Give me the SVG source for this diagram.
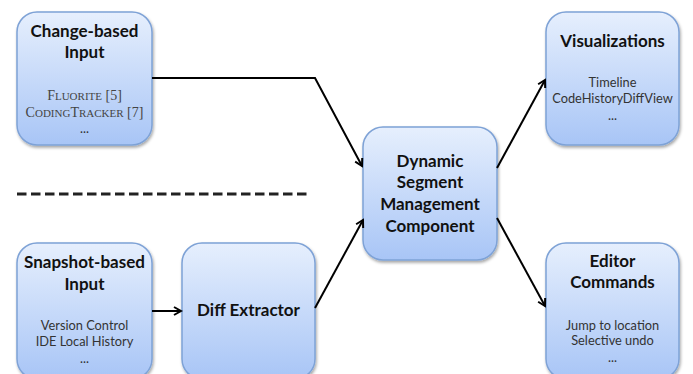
<svg xmlns="http://www.w3.org/2000/svg" width="693" height="374" viewBox="0 0 693 374">
<defs>
<linearGradient id="g" x1="0" y1="0" x2="0" y2="1">
<stop offset="0" stop-color="#e6effd"/>
<stop offset="1" stop-color="#a8c5f6"/>
</linearGradient>
<filter id="sh" x="-10%" y="-10%" width="130%" height="130%">
<feDropShadow dx="1" dy="2" stdDeviation="1.5" flood-color="#000" flood-opacity="0.35"/>
</filter>
<marker id="arr" markerWidth="10" markerHeight="10" refX="8" refY="5" orient="auto" markerUnits="userSpaceOnUse">
<path d="M1,1 L8,5 L1,9" fill="none" stroke="#000" stroke-width="2"/>
</marker>
</defs>
<style>
.box{fill:url(#g);stroke:#7ea2d6;stroke-width:1.5;filter:url(#sh)}
.t{font-family:Lato,"Open Sans",sans-serif;font-weight:bold;font-size:17px;fill:#111;text-anchor:middle}
.s{font-family:Lato,"Open Sans",sans-serif;font-size:12.8px;fill:#333;text-anchor:middle}
.sc{font-family:"Liberation Serif",serif;font-size:14px;fill:#444;text-anchor:middle}
.c{fill:none;stroke:#000;stroke-width:2}
</style>
<rect width="693" height="374" fill="#fff"/>
<g id="change-based">
<rect class="box" x="17" y="12" width="135" height="133" rx="20"/>
<text class="t" x="84.5" y="37">Change-based</text>
<text class="t" x="84.5" y="58">Input</text>
<text class="sc" x="84.5" y="100">F<tspan font-size="11">LUORITE</tspan> [5]</text>
<text class="sc" x="84.5" y="117">C<tspan font-size="11">ODING</tspan>T<tspan font-size="11">RACKER</tspan> [7]</text>
<text class="s" x="84.5" y="133">...</text>
</g>
<g id="snapshot-based">
<rect class="box" x="17" y="243" width="135" height="136" rx="20"/>
<text class="t" x="84.5" y="268">Snapshot-based</text>
<text class="t" x="84.5" y="290">Input</text>
<text class="s" x="84.5" y="330">Version Control</text>
<text class="s" x="84.5" y="346">IDE Local History</text>
<text class="s" x="84.5" y="363">...</text>
</g>
<g id="diff-extractor">
<rect class="box" x="182" y="243" width="133" height="136" rx="20"/>
<text class="t" x="248.5" y="316">Diff Extractor</text>
</g>
<g id="dynamic">
<rect class="box" x="363" y="127" width="134" height="133" rx="20"/>
<text class="t" x="430" y="167">Dynamic</text>
<text class="t" x="430" y="188">Segment</text>
<text class="t" x="430" y="210">Management</text>
<text class="t" x="430" y="232">Component</text>
</g>
<g id="visualizations">
<rect class="box" x="546" y="12" width="133" height="133" rx="20"/>
<text class="t" x="612.5" y="47">Visualizations</text>
<text class="s" x="612.5" y="87">Timeline</text>
<text class="s" x="612.5" y="103">CodeHistoryDiffView</text>
<text class="s" x="612.5" y="120">...</text>
</g>
<g id="editor">
<rect class="box" x="546" y="243" width="133" height="136" rx="20"/>
<text class="t" x="612.5" y="267">Editor</text>
<text class="t" x="612.5" y="288">Commands</text>
<text class="s" x="612.5" y="330">Jump to location</text>
<text class="s" x="612.5" y="345">Selective undo</text>
<text class="s" x="612.5" y="362">...</text>
</g>
<g id="connectors">
<polyline class="c" points="152,78 315,78 362,166" marker-end="url(#arr)"/>
<line class="c" x1="152" y1="311" x2="181" y2="311" marker-end="url(#arr)"/>
<line class="c" x1="315" y1="308" x2="363" y2="220" marker-end="url(#arr)"/>
<line class="c" x1="497" y1="168" x2="545" y2="80" marker-end="url(#arr)"/>
<line class="c" x1="497" y1="218" x2="545" y2="306" marker-end="url(#arr)"/>
<line x1="17" y1="194" x2="310" y2="194" stroke="#222" stroke-width="3" stroke-dasharray="9.5 4.5"/>
</g>
</svg>
